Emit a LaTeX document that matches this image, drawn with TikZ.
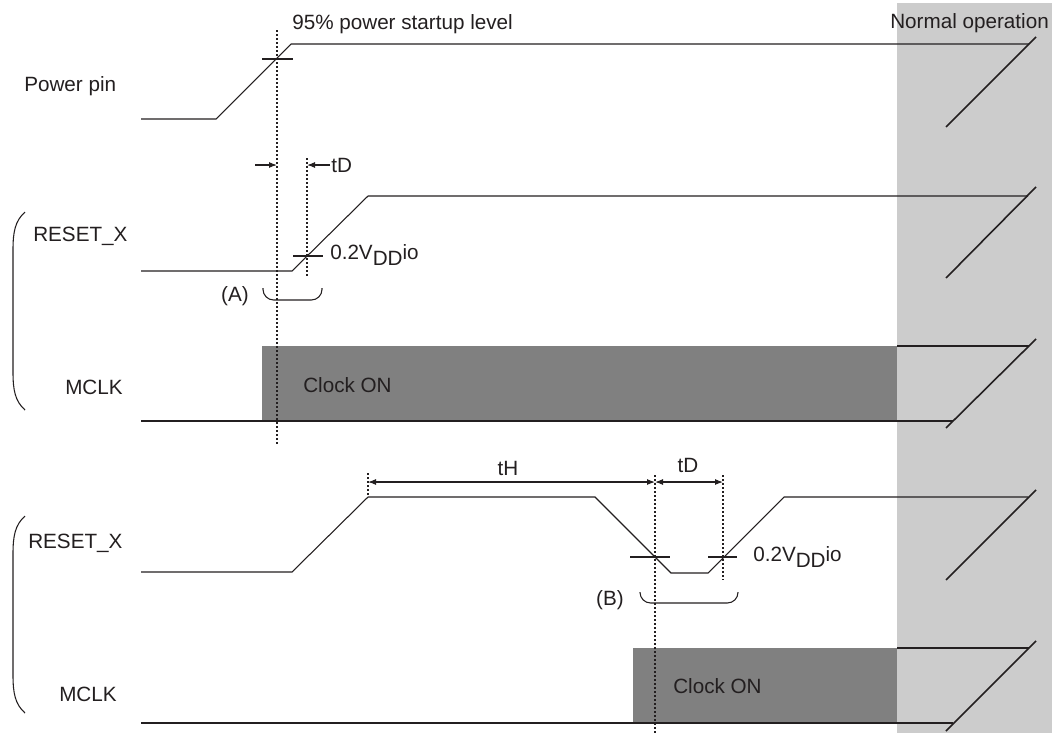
\documentclass[tikz,border=0pt]{standalone}
\usepackage{fontspec}
\setmainfont{Liberation Sans}
\usetikzlibrary{arrows.meta}
\definecolor{bandgray}{HTML}{CCCCCC}
\definecolor{clockgray}{HTML}{808080}
\definecolor{inkgray}{HTML}{231F20}
\newcommand{\vddlevel}{0.2V\raisebox{-0.33em}{DD}io}
\tikzset{
  sig/.style={line width=0.8pt, draw=inkgray},
  breakmark/.style={line width=1.2pt, draw=inkgray},
  guide/.style={line width=0.8pt, draw=inkgray, dash pattern=on 1.5pt off 1.5pt},
  dimarrow/.style={line width=0.8pt, draw=inkgray, -{Latex[length=6pt,width=4.5pt]}},
  lbl/.style={font=\fontsize{15.5}{18}\selectfont, text=inkgray, inner sep=0pt},
}

\begin{document}
\begin{tikzpicture}[x=0.75pt, y=-0.75pt]
    \useasboundingbox (0,0) rectangle (1052,733);
    % Normal operation band
    \fill[bandgray] (897,3) rectangle (1052,733);
    \node[lbl, anchor=base west] (normal) at (890,28) {Normal operation};
    % Clock ON boxes
    \fill[clockgray] (262,346) rectangle (897,421);
    \node[lbl, anchor=base west] (clk1) at (303,392) {Clock ON};
    \fill[clockgray] (633,648) rectangle (897,723);
    \node[lbl, anchor=base west] (clk2) at (673,693) {Clock ON};
    % Signal names
    \node[lbl, anchor=west] (pwr) at (24,86) {Power pin};
    \node[lbl, anchor=west] (rst1) at (33,236) {RESET\_X};
    \node[lbl, anchor=west] (mclk1) at (65,387) {MCLK};
    \node[lbl, anchor=west] (rst2) at (28,543) {RESET\_X};
    \node[lbl, anchor=west] (mclk2) at (59,694) {MCLK};
    % Group parentheses
    \draw[sig] (25,212) .. controls (15,221) and (13,232) .. (13,250) -- (13,372)
        .. controls (13,390) and (15,401) .. (25,410);
    \draw[sig] (25,516) .. controls (15,525) and (13,536) .. (13,554) -- (13,675)
        .. controls (13,693) and (15,704) .. (25,713);

    % Power pin waveform
    \draw[sig] (141,119) -- (216,119) -- (291,44) -- (1029,44);
    \draw[breakmark] (946,127) -- (1036,37);
    \draw[sig] (262,59) -- (293,59);
    \node[lbl, anchor=base west] (lvl95) at (292,29) {95\% power startup level};

    % RESET_X, case (A)
    \draw[sig] (141,271) -- (292,271) -- (368,196) -- (1028,196);
    \draw[breakmark] (946,278) -- (1036,187);
    \draw[sig] (293,256) -- (323,256);
    \node[lbl, anchor=base west] (vdd1) at (330,259) {\vddlevel};
    % MCLK, case (A)
    \draw[sig] (141,421) -- (953,421);
    \draw[sig] (897,346) -- (1029,346);
    \draw[breakmark] (946,428) -- (1036,339);

    % Guides and delay, case (A)
    \coordinate (gA1) at (277,165);
    \coordinate (gA2) at (307,165);
    \draw[guide] (277,30) -- (277,445);
    \draw[guide] (307,158) -- (307,278);
    \draw[dimarrow] (255,165) -- (gA1);
    \draw[dimarrow] (330,165) -- (gA2);
    \node[lbl, anchor=west] (tdA) at (331,165) {tD};
    \draw[sig, rounded corners=8pt] (263,288) -- (263,300) -- (322,300) -- (322,288);
    \node[lbl] (capA) at (235,296) {(A)};

    % RESET_X, case (B)
    \draw[sig] (141,572) -- (292,572) -- (368,497) -- (595,497) -- (671,573)
        -- (708,573) -- (784,497) -- (1028,497);
    \draw[breakmark] (946,580) -- (1036,490);
    \draw[sig] (630,557) -- (670,557);
    \draw[sig] (708,557) -- (737,557);
    \node[lbl, anchor=base west] (vdd2) at (753,561) {\vddlevel};
    % MCLK, case (B)
    \draw[sig] (141,723) -- (953,723);
    \draw[sig] (897,648) -- (1029,648);
    \draw[breakmark] (946,731) -- (1036,641);

    % Guides, hold and delay, case (B)
    \coordinate (gB0) at (368,482);
    \coordinate (gB1) at (655,482);
    \coordinate (gB2) at (723,482);
    \draw[guide] (368,473) -- (368,497);
    \draw[guide] (655,475) -- (655,733);
    \draw[guide] (723,475) -- (723,580);
    \draw[dimarrow, {Latex[length=6pt,width=4.5pt]}-{Latex[length=6pt,width=4.5pt]}] (gB0) -- (gB1);
    \draw[dimarrow, {Latex[length=6pt,width=4.5pt]}-{Latex[length=6pt,width=4.5pt]}] (gB1) -- (gB2);
    \node[lbl] (th) at (508,468) {tH};
    \node[lbl] (tdB) at (688,465) {tD};
    \draw[sig, rounded corners=8pt] (640,592) -- (640,603) -- (738,603) -- (738,592);
    \node[lbl] (capB) at (610,600) {(B)};
\end{tikzpicture}
\end{document}
